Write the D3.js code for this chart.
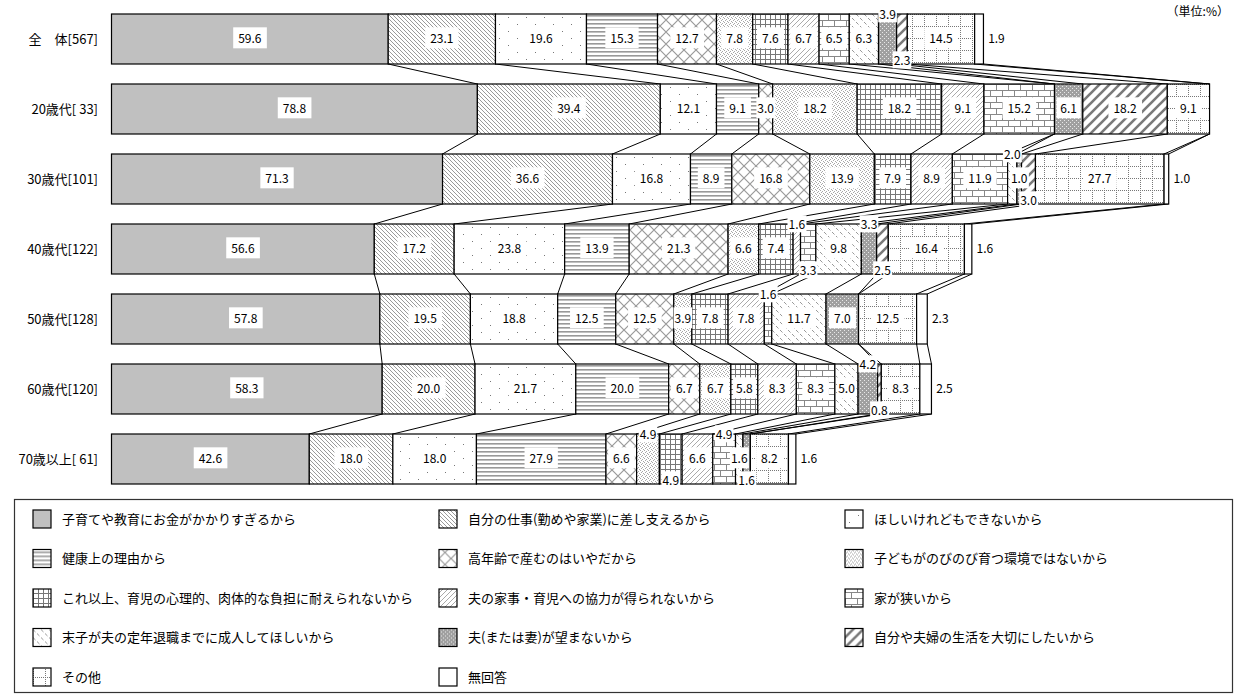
<!DOCTYPE html>
<html>
<head>
<meta charset="utf-8">
<script src="https://cdn.jsdelivr.net/npm/d3@7"></script>
<style>
  body { margin: 0; background: #fff; }
  svg { display: block; font-family: "Noto Sans CJK JP", "Noto Sans", sans-serif; }
</style>
</head>
<body>
<svg id="chart"></svg>
<script>
// reasons for not having the ideal number of children (multiple answers, %)
var reasons = [
  "子育てや教育にお金がかかりすぎるから",
  "自分の仕事(勤めや家業)に差し支えるから",
  "ほしいけれどもできないから",
  "健康上の理由から",
  "高年齢で産むのはいやだから",
  "子どもがのびのび育つ環境ではないから",
  "これ以上、育児の心理的、肉体的な負担に耐えられないから",
  "夫の家事・育児への協力が得られないから",
  "家が狭いから",
  "末子が夫の定年退職までに成人してほしいから",
  "夫(または妻)が望まないから",
  "自分や夫婦の生活を大切にしたいから",
  "その他",
  "無回答"
];

var groups = ["全　体[567]", "20歳代[ 33]", "30歳代[101]", "40歳代[122]", "50歳代[128]", "60歳代[120]", "70歳以上[ 61]"];

var total  = [59.6, 23.1, 19.6, 15.3, 12.7, 7.8, 7.6, 6.7, 6.5, 6.3, 3.9, 2.3, 14.5, 1.9];
var age20  = [78.8, 39.4, 12.1, 9.1, 3.0, 18.2, 18.2, 9.1, 15.2, 0, 6.1, 18.2, 9.1, 0];
var age30  = [71.3, 36.6, 16.8, 8.9, 16.8, 13.9, 7.9, 8.9, 11.9, 2.0, 1.0, 3.0, 27.7, 1.0];
var age40  = [56.6, 17.2, 23.8, 13.9, 21.3, 6.6, 7.4, 1.6, 3.3, 9.8, 3.3, 2.5, 16.4, 1.6];
var age50  = [57.8, 19.5, 18.8, 12.5, 12.5, 3.9, 7.8, 7.8, 1.6, 11.7, 7.0, 0, 12.5, 2.3];
var age60  = [58.3, 20.0, 21.7, 20.0, 6.7, 6.7, 5.8, 8.3, 8.3, 5.0, 4.2, 0.8, 8.3, 2.5];
var age70  = [42.6, 18.0, 18.0, 27.9, 6.6, 4.9, 4.9, 6.6, 4.9, 1.6, 1.6, 0, 8.2, 1.6];

var rows = [total, age20, age30, age40, age50, age60, age70];

var width = 1240,
    height = 695;

var svg = d3.select("svg#chart")
    .attr("width", width)
    .attr("height", height);

var x = d3.scaleLinear().domain([0, 100]).range([111.5, 575.8]);
var y = d3.scaleBand().domain(groups).range([4, 494]).paddingInner(2 / 7).paddingOuter(1 / 7);

// hatch patterns, one per reason
var defs = svg.append("defs");

function pattern(id, w, h, bg) {
    var p = defs.append("pattern").attr("id", id)
        .attr("patternUnits", "userSpaceOnUse")
        .attr("width", w).attr("height", h);
    p.append("rect").attr("width", w).attr("height", h).attr("fill", bg || "#fff");
    return p;
}
function dots(p, pts, color) {
    pts.forEach(function(q) {
        p.append("rect").attr("x", q[0]).attr("y", q[1])
            .attr("width", 1).attr("height", 1)
            .attr("fill", color).attr("shape-rendering", "crispEdges");
    });
}

var p;
p = pattern("p0", 4, 4, "#c0c0c0");

p = pattern("p1", 4, 4);
p.append("path").attr("d", "M-1,-1L5,5M-1,3L1,5M3,-1L5,1").attr("stroke", "#8f8f8f").attr("stroke-width", 0.9);

p = pattern("p2", 18, 14);
dots(p, [[4, 3], [13, 10]], "#777");

p = pattern("p3", 4, 4);
p.append("rect").attr("y", 1).attr("width", 4).attr("height", 1.6).attr("fill", "#999");

p = pattern("p4", 12, 12);
p.append("path").attr("d", "M0,0L12,12M12,0L0,12").attr("stroke", "#9a9a9a").attr("stroke-width", 1.2);

p = pattern("p5", 4, 4);
dots(p, [[0, 0], [2, 1], [1, 2], [3, 3]], "#a8a8a8");

p = pattern("p6", 5, 5);
p.append("path").attr("d", "M0.5,0V5M0,0.5H5").attr("stroke", "#777").attr("stroke-width", 1);

p = pattern("p7", 5, 5);
p.append("path").attr("d", "M0,5L5,0M-1,1L1,-1M4,6L6,4").attr("stroke", "#aaa").attr("stroke-width", 1);

p = pattern("p8", 12, 12);
p.append("path").attr("d", "M0,0.5H12M0,6.5H12M0.5,0V6M6.5,6V12").attr("stroke", "#888").attr("stroke-width", 1);

p = pattern("p9", 8, 8);
p.append("path").attr("d", "M0,0L2.5,2.5M4,4L6.5,6.5").attr("stroke", "#999").attr("stroke-width", 1);

p = pattern("p10", 4, 4, "#a0a0a0");
dots(p, [[0, 0], [2, 2]], "#e8e8e8");

p = pattern("p11", 10, 10);
p.append("path").attr("d", "M0,10L10,0M-2,2L2,-2M8,12L12,8").attr("stroke", "#7a7a7a").attr("stroke-width", 2.6);

p = pattern("p12", 12, 12);
var grid = [];
for (var i = 0; i < 6; i++) { grid.push([i * 2, 0]); if (i) grid.push([0, i * 2]); }
dots(p, grid, "#777");

p = pattern("p13", 4, 4);

function fillOf(k) { return "url(#p" + k + ")"; }

// stacked segments
var layout = rows.map(function(vals, r) {
    var acc = 0;
    return vals.map(function(v, k) {
        var s = { r: r, k: k, v: v, c0: acc, c1: acc + v };
        acc += v;
        return s;
    });
});

// connector lines between neighbouring bars
var links = [];
for (var r = 0; r < rows.length - 1; r++) {
    layout[r].forEach(function(s, k) {
        links.push({ a: s.c1, b: layout[r + 1][k].c1, r: r });
    });
}
svg.append("g").selectAll("line")
    .data(links)
    .enter()
    .append("line")
    .attr("x1", function(d) { return x(d.a); })
    .attr("y1", function(d) { return y(groups[d.r]) + y.bandwidth(); })
    .attr("x2", function(d) { return x(d.b); })
    .attr("y2", function(d) { return y(groups[d.r + 1]); })
    .attr("stroke", "#000")
    .attr("stroke-width", 1);

var bar = svg.selectAll("g.bar")
    .data(layout)
    .enter()
    .append("g")
    .attr("class", "bar")
    .attr("transform", function(d, i) {
        return "translate(0," + y(groups[i]) + ")";
    });

bar.selectAll("rect")
    .data(function(d) { return d.filter(function(s) { return s.v > 0; }); })
    .enter()
    .append("rect")
    .attr("x", function(d) { return x(d.c0); })
    .attr("width", function(d) { return x(d.c1) - x(d.c0); })
    .attr("height", y.bandwidth())
    .attr("fill", function(d) { return fillOf(d.k); })
    .attr("stroke", "#000")
    .attr("stroke-width", 1.2);

// category labels
svg.append("g").selectAll("text")
    .data(groups)
    .enter()
    .append("text")
    .attr("x", 98)
    .attr("y", function(d) { return y(d) + y.bandwidth() / 2; })
    .attr("dy", "0.35em")
    .attr("text-anchor", "end")
    .attr("font-size", 13)
    .attr("fill", "#000")
    .text(function(d) { return d; });

// value labels: small values (< 5) go above / middle / below in runs
var labels = [];
layout.forEach(function(segs, r) {
    var top = y(groups[r]), bot = top + y.bandwidth();
    var run = [];
    function flush() {
        if (run.length === 1) {
            var s = run[0];
            var wpx = x(s.c1) - x(s.c0);
            s.pos = wpx >= 10 ? "mid" : "top";
        } else if (run.length === 2) {
            run[0].pos = "top"; run[1].pos = "bot";
        } else if (run.length >= 3) {
            run.forEach(function(s, i) {
                s.pos = i === 0 ? "top" : (i === run.length - 1 ? "bot" : "mid");
            });
        }
        run.forEach(function(s) { labels.push(s); });
        run = [];
    }
    segs.forEach(function(s) {
        if (s.v <= 0) return;
        s.top = top; s.bot = bot;
        if (s.k === segs.length - 1) {
            flush();
            s.pos = "right";
            labels.push(s);
        } else if (s.v < 5) {
            run.push(s);
        } else {
            flush();
            s.pos = "mid";
            labels.push(s);
        }
    });
    flush();
});

var lab = svg.append("g").selectAll("g")
    .data(labels)
    .enter()
    .append("g")
    .attr("transform", function(d) {
        var cx = (x(d.c0) + x(d.c1)) / 2, cy = (d.top + d.bot) / 2;
        if (d.pos === "top") cy = d.top + 1;
        if (d.pos === "bot") cy = d.bot - 3;
        if (d.pos === "right") cx = x(d.c1) + 13;
        return "translate(" + cx + "," + cy + ")";
    });

lab.append("rect").attr("fill", "#fff");
lab.append("text")
    .attr("text-anchor", "middle")
    .attr("dy", "0.36em")
    .attr("font-size", 12)
    .attr("fill", "#000")
    .text(function(d) { return d.v.toFixed(1); });

lab.each(function(d) {
    var g = d3.select(this);
    var bb = g.select("text").node().getBBox();
    var wpx = x(d.c1) - x(d.c0);
    var padX = 1, padY = 0;
    if (d.pos === "mid") {
        padX = Math.max(1, Math.min(5, (wpx - bb.width) / 2 - 2));
        padY = 2;
    }
    g.select("rect")
        .attr("x", bb.x - padX).attr("y", bb.y - padY)
        .attr("width", bb.width + padX * 2).attr("height", bb.height + padY * 2)
        .attr("fill", d.pos === "right" ? "none" : "#fff");
});

svg.append("text")
    .attr("x", 1229).attr("y", 16)
    .attr("text-anchor", "end")
    .attr("font-size", 12)
    .text("（単位:%）");

// legend
var legend = svg.append("g");
legend.append("rect")
    .attr("x", 14.5).attr("y", 499.5)
    .attr("width", 1218).attr("height", 193)
    .attr("fill", "#fff").attr("stroke", "#333").attr("stroke-width", 1.2);

var item = legend.selectAll("g")
    .data(reasons)
    .enter()
    .append("g")
    .attr("transform", function(d, i) {
        return "translate(" + (33 + (i % 3) * 406) + "," + (519 + Math.floor(i / 3) * 39.5) + ")";
    });

item.append("rect")
    .attr("x", 0).attr("y", -9)
    .attr("width", 18).attr("height", 18)
    .attr("fill", function(d, i) { return fillOf(i); })
    .attr("stroke", "#000").attr("stroke-width", 1.2);

item.append("text")
    .attr("x", 29)
    .attr("dy", "0.35em")
    .attr("font-size", 13)
    .text(function(d) { return d; });
</script>
</body>
</html>
